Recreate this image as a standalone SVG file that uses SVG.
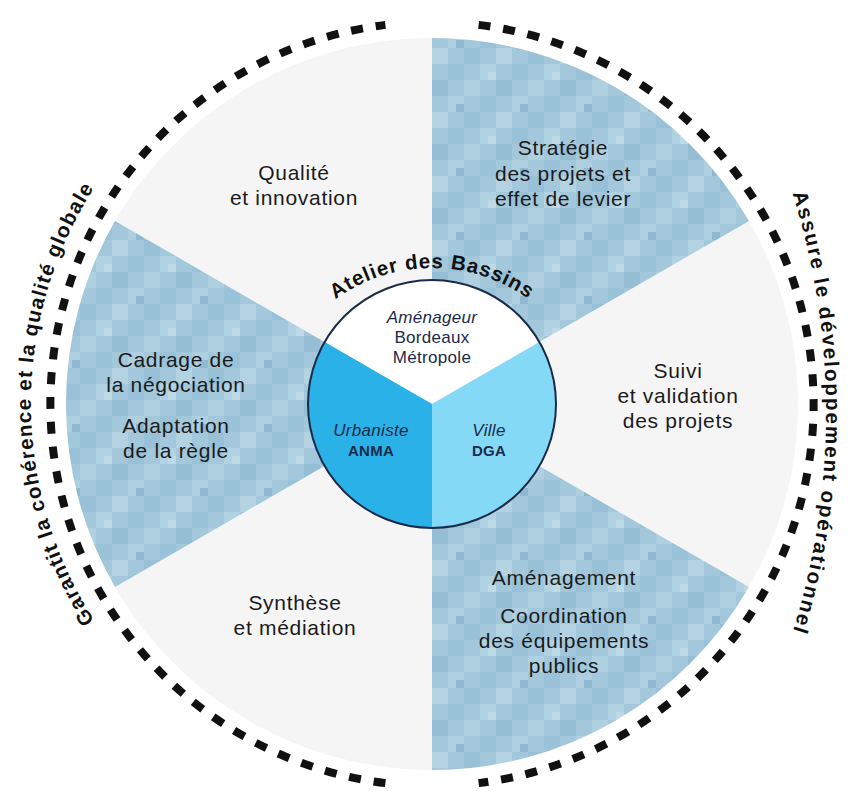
<svg xmlns="http://www.w3.org/2000/svg" width="848" height="791" viewBox="0 0 848 791">
  <defs>
    <pattern id="mosaic" width="64" height="64" patternUnits="userSpaceOnUse">
      <rect width="64" height="64" fill="#a3c7db"/>
      <rect x="0" y="0" width="16" height="16" fill="#99c1d7"/>
      <rect x="32" y="0" width="16" height="16" fill="#b1d2e2"/>
      <rect x="16" y="16" width="16" height="16" fill="#afd0e1"/>
      <rect x="48" y="16" width="16" height="16" fill="#95bed5"/>
      <rect x="0" y="32" width="16" height="16" fill="#aecfe0"/>
      <rect x="32" y="32" width="16" height="16" fill="#9ac2d8"/>
      <rect x="16" y="48" width="16" height="16" fill="#98c0d6"/>
      <rect x="48" y="48" width="16" height="16" fill="#b3d3e3"/>
      <rect x="40" y="8" width="8" height="8" fill="#bfdae7"/>
      <rect x="8" y="40" width="8" height="8" fill="#8fb9d2"/>
    </pattern>
    <path id="arcLeft" d="M231.5,751.3 A401,401 0 0 1 231.5,56.7"/>
    <path id="arcRight" d="M765.3,120 A737.5,737.5 0 0 1 765.3,706"/>
    <path id="arcTop" d="M289.1,350.5 A165,165 0 0 1 574.9,350.5"/>
  </defs>
  <style>
    .lbl { font-family: "Liberation Sans", Arial, sans-serif; font-size: 21px; letter-spacing: 0.7px; fill: #1b1b1b; text-anchor: middle; }
    .in { font-family: "Liberation Sans", Arial, sans-serif; font-size: 17px; fill: #1c2a4a; text-anchor: middle; letter-spacing: 0.3px; }
    .it { font-style: italic; }
    .bd { font-weight: bold; font-size: 15px; }
    .side { font-family: "Liberation Sans", Arial, sans-serif; font-size: 20.5px; font-weight: bold; fill: #111; }
    .dash { fill: none; stroke: #111; stroke-width: 8; stroke-dasharray: 12 12.9; }
    .blue { fill: url(#mosaic); }
  </style>
  <rect width="848" height="791" fill="#ffffff"/>

  <g id="sectors">
    <circle cx="432" cy="404" r="366" fill="#f5f5f6"/>
    <path id="sector-strategie" class="blue" d="M432,404 L432,38 A366,366 0 0 1 748.97,221 Z"/>
    <path id="sector-cadrage" class="blue" d="M432,404 L115.03,587 A366,366 0 0 1 115.03,221 Z"/>
    <path id="sector-amenagement" class="blue" d="M432,404 L748.97,587 A366,366 0 0 1 432,770 Z"/>
  </g>

  <g id="connectors">
    <path class="dash" d="M478.6,24.9 A382,382 0 0 1 478.6,783.1"/>
    <path class="dash" d="M385.4,783.1 A382,382 0 0 1 385.4,24.9"/>
  </g>

  <g id="label-qualite">
    <text class="lbl" x="294" y="180">Qualité</text>
    <text class="lbl" x="294" y="205">et innovation</text>
  </g>
  <g id="label-strategie">
    <text class="lbl" x="563" y="155">Stratégie</text>
    <text class="lbl" x="563" y="180.5">des projets et</text>
    <text class="lbl" x="563" y="206">effet de levier</text>
  </g>
  <g id="label-cadrage">
    <text class="lbl" x="176" y="367">Cadrage de</text>
    <text class="lbl" x="176" y="392">la négociation</text>
    <text class="lbl" x="176" y="433">Adaptation</text>
    <text class="lbl" x="176" y="458">de la règle</text>
  </g>
  <g id="label-suivi">
    <text class="lbl" x="678" y="378">Suivi</text>
    <text class="lbl" x="678" y="403">et validation</text>
    <text class="lbl" x="678" y="428">des projets</text>
  </g>
  <g id="label-synthese">
    <text class="lbl" x="295" y="610">Synthèse</text>
    <text class="lbl" x="295" y="635">et médiation</text>
  </g>
  <g id="label-amenagement">
    <text class="lbl" x="564" y="585">Aménagement</text>
    <text class="lbl" x="564" y="623">Coordination</text>
    <text class="lbl" x="564" y="648">des équipements</text>
    <text class="lbl" x="564" y="673">publics</text>
  </g>

  <g id="atelier">
    <path id="seg-amenageur" d="M432,404 L324.6,342 A124,124 0 0 1 539.4,342 Z" fill="#ffffff"/>
    <path id="seg-ville" d="M432,404 L539.4,342 A124,124 0 0 1 432,528 Z" fill="#84daf6"/>
    <path id="seg-urbaniste" d="M432,404 L432,528 A124,124 0 0 1 324.6,342 Z" fill="#2ab2e8"/>
    <circle cx="432" cy="404" r="124" fill="none" stroke="#1c2a4a" stroke-width="2"/>
    <text class="in it" x="432" y="323">Aménageur</text>
    <text class="in" x="432" y="343">Bordeaux</text>
    <text class="in" x="432" y="363">Métropole</text>
    <text class="in it" x="371" y="436">Urbaniste</text>
    <text class="in bd" x="371" y="456">ANMA</text>
    <text class="in it" x="489" y="436">Ville</text>
    <text class="in bd" x="489" y="456">DGA</text>
  </g>

  <g id="curved-titles">
    <text class="side" font-size="20" letter-spacing="0.9"><textPath href="#arcTop" startOffset="50%" text-anchor="middle">Atelier des Bassins</textPath></text>
    <text class="side" letter-spacing="1.2"><textPath href="#arcLeft" startOffset="50%" text-anchor="middle">Garantit la cohérence et la qualité globale</textPath></text>
    <text class="side" letter-spacing="1.9"><textPath href="#arcRight" startOffset="50%" text-anchor="middle">Assure le développement opérationnel</textPath></text>
  </g>
</svg>
